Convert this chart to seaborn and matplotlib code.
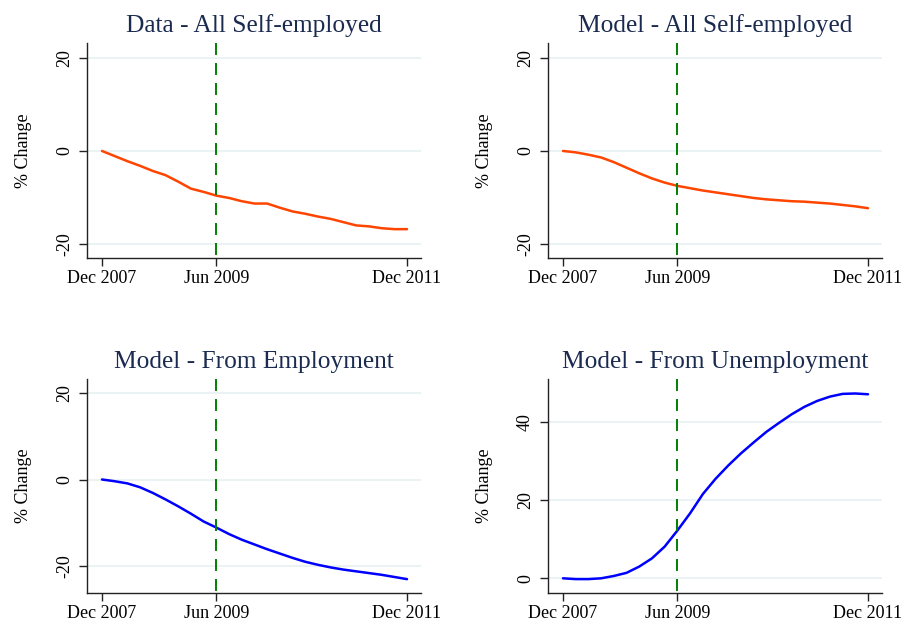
import numpy as np
import pandas as pd
import matplotlib
matplotlib.use("Agg")
import matplotlib.pyplot as plt
import seaborn as sns

# Months since Dec 2007 (every second month through Dec 2011)
months = list(range(0, 49, 2))

data_all_self = [0.0, -1.1, -2.2, -3.2, -4.3, -5.2, -6.6, -8.1, -8.8, -9.6,
                 -10.1, -10.8, -11.3, -11.3, -12.2, -13.0, -13.5, -14.1, -14.6,
                 -15.3, -16.0, -16.2, -16.6, -16.8, -16.8]
model_all_self = [0.0, -0.3, -0.8, -1.4, -2.4, -3.6, -4.8, -5.9, -6.8, -7.5,
                  -8.0, -8.5, -8.9, -9.3, -9.7, -10.1, -10.4, -10.6, -10.8,
                  -10.9, -11.1, -11.3, -11.6, -11.9, -12.3]
model_from_emp = [0.0, -0.4, -0.9, -1.8, -3.1, -4.6, -6.2, -7.9, -9.7, -11.1,
                  -12.6, -13.9, -15.0, -16.1, -17.1, -18.1, -19.0, -19.7, -20.3,
                  -20.8, -21.2, -21.6, -22.0, -22.5, -23.0]
model_from_unemp = [0.0, -0.2, -0.2, 0.0, 0.6, 1.4, 3.0, 5.1, 8.1, 12.2,
                    16.6, 21.5, 25.4, 28.8, 31.9, 34.7, 37.4, 39.7, 41.9,
                    43.8, 45.3, 46.4, 47.1, 47.2, 47.0]

titles = ["Data - All Self-employed", "Model - All Self-employed",
          "Model - From Employment", "Model - From Unemployment"]
tick_months = [0, 18, 48]
tick_labels = ["Dec 2007", "Jun 2009", "Dec 2011"]
recession_end = 18

sns.set_theme(style="ticks")
plt.rcParams["font.family"] = ["Liberation Serif", "DejaVu Serif"]
plt.rcParams["lines.scale_dashes"] = False

W, H = 905, 627
fig = plt.figure(figsize=(W / 100, H / 100), dpi=100)
fig.patch.set_facecolor("white")


def px_axes(left, top, right, bottom):
    return fig.add_axes([left / W, 1 - bottom / H, (right - left) / W, (bottom - top) / H])


panels = [
    dict(box=(87, 43, 421, 258), series=data_all_self, color="#ff4500",
         ylim=(-23.0, 23.2), yticks=[-20, 0, 20]),
    dict(box=(548, 43, 882, 258), series=model_all_self, color="#ff4500",
         ylim=(-23.0, 23.2), yticks=[-20, 0, 20]),
    dict(box=(87, 379, 421, 593), series=model_from_emp, color="#0000ff",
         ylim=(-26.2, 23.2), yticks=[-20, 0, 20]),
    dict(box=(548, 379, 882, 593), series=model_from_unemp, color="#0000ff",
         ylim=(-3.75, 50.9), yticks=[0, 20, 40]),
]

for p, title in zip(panels, titles):
    ax = px_axes(*p["box"])
    df = pd.DataFrame({"month": months, "pct": p["series"]})
    ax.set_xlim(-2.36, 50.2)
    ax.set_ylim(*p["ylim"])
    for yv in p["yticks"]:
        ax.axhline(yv, color="#e9f1f3", lw=1.3, zorder=0)
    sns.lineplot(data=df, x="month", y="pct", ax=ax, color=p["color"], lw=1.8, zorder=3)
    ax.axvline(recession_end, ymin=1, ymax=0, color="#008000", lw=1.4,
               dashes=(8.6, 5.8), zorder=4)

    ax.set_xticks(tick_months)
    ax.set_xticklabels(tick_labels)
    ax.set_yticks(p["yticks"])
    ax.set_yticklabels([str(v) for v in p["yticks"]], rotation=90, va="center")
    ax.tick_params(axis="both", length=6, width=1.0, color="#222222",
                   labelsize=13, labelcolor="black")
    ax.tick_params(axis="x", pad=3)
    ax.tick_params(axis="y", pad=4)

    ax.set_xlabel("")
    ax.set_ylabel("% Change", fontsize=13, color="black")
    ax.yaxis.set_label_coords(-0.165, 0.5)
    ax.set_title(title, fontsize=18.3, color="#1b2b50", pad=8)

    for s in ("top", "right"):
        ax.spines[s].set_visible(False)
    for s in ("left", "bottom"):
        ax.spines[s].set_color("#222222")
        ax.spines[s].set_linewidth(1.0)
    ax.set_facecolor("white")

fig.savefig("out.png", dpi=100, facecolor="white")
